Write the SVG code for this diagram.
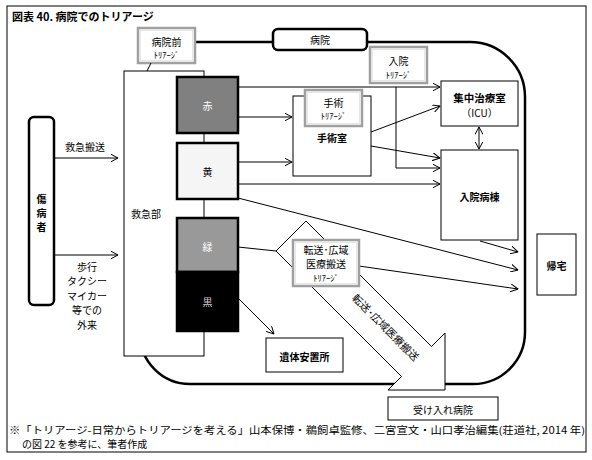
<svg xmlns="http://www.w3.org/2000/svg" width="592" height="460" viewBox="0 0 592 460">
<style>
text{font-family:"Noto Sans CJK JP","Liberation Sans",sans-serif;font-size:10px;fill:#000;dominant-baseline:central;text-anchor:middle}
.b{font-weight:700}
.sm{font-size:8.5px}
.box{fill:#fff;stroke:#000;stroke-width:1}
.tri{fill:#fff;stroke:#a0a0a0;stroke-width:2.5}
.tri2{fill:none;stroke:#e6e6e6;stroke-width:1}
.thick{fill:none;stroke:#000;stroke-width:2.5}
.cb{stroke:#000;stroke-width:2.5}
.ln{fill:none;stroke:#000;stroke-width:1}
.ar{marker-end:url(#ah)}
</style>
<defs>
<marker id="ah" viewBox="0 0 8 8" markerWidth="8" markerHeight="8" refX="7.5" refY="4" orient="auto-start-reverse" markerUnits="userSpaceOnUse">
<path d="M0,0 L7.5,4 L0,8" fill="none" stroke="#000" stroke-width="1"/>
</marker>
</defs>
<rect x="0" y="0" width="592" height="460" fill="#fff"/>
<rect x="7" y="6" width="579" height="446" fill="none" stroke="#000" stroke-width="1"/>
<text x="12" y="16" class="b" style="text-anchor:start;font-size:11px">図表 40.  病院でのトリアージ</text>

<g id="hospital-boundary">
<path class="thick" d="M195,42 H273 M367,42 H470 A55,55 0 0 1 525,97 V332 A52,52 0 0 1 473,384 H190 A50,50 0 0 1 140,334"/>
</g>

<g id="node-hospital">
<rect x="273" y="29" width="94" height="21" rx="5" class="thick" style="fill:#fff"/>
<text x="320" y="39.5">病院</text>
</g>

<g id="node-patient">
<rect x="29" y="117" width="25" height="188" rx="5" class="thick" style="fill:#fff"/>
<text x="41.5" y="198" class="b">傷</text>
<text x="41.5" y="212" class="b">病</text>
<text x="41.5" y="226" class="b">者</text>
</g>

<g id="node-er">
<rect x="124" y="71" width="80" height="285" class="box"/>
<text x="146" y="213">救急部</text>
</g>

<g id="node-pretriage">
<rect x="138" y="28" width="57" height="35" class="tri"/>
<rect x="140.5" y="30.5" width="52" height="30" class="tri2"/>
<text x="166.5" y="41">病院前</text>
<text x="166.5" y="53.5" class="sm">ﾄﾘｱｰｼﾞ</text>
</g>

<g id="connectors">
<line x1="147" y1="71" x2="151" y2="63" class="ln"/>
<line x1="55" y1="158" x2="118" y2="158" class="ln ar"/>
<line x1="55" y1="255" x2="118" y2="255" class="ln ar"/>
<path d="M238,87 H440" class="ln ar"/>
<path d="M396,87 V168 H440" class="ln ar"/>
<line x1="238" y1="117" x2="292" y2="117" class="ln ar"/>
<line x1="238" y1="162" x2="292" y2="162" class="ln ar"/>
<line x1="238" y1="184" x2="440" y2="184" class="ln ar"/>
<line x1="371" y1="132" x2="440" y2="106" class="ln ar"/>
<line x1="371" y1="146" x2="440" y2="158" class="ln ar"/>
<line x1="479" y1="127" x2="479" y2="149" class="ln" style="marker-start:url(#ah);marker-end:url(#ah)"/>
<line x1="480" y1="241" x2="518" y2="252" class="ln ar"/>
<line x1="238" y1="198" x2="518" y2="270" class="ln ar"/>
<line x1="359" y1="266" x2="518" y2="289" class="ln ar"/>
<line x1="238" y1="247" x2="276" y2="251" class="ln"/>
<line x1="238" y1="298" x2="274" y2="334" class="ln ar"/>
</g>

<g id="transfer-arrow">
<polygon points="276,251 306,221 431.5,346.5 445,333 445,390 388,390 401.5,376.5" fill="#fff" stroke="#000" stroke-width="1"/>
<text x="386" y="327" transform="rotate(45 386 327)" style="font-size:10.5px">転送･広域医療搬送</text>
</g>

<g id="node-red">
<rect x="177" y="77" width="61" height="56" fill="#808080" class="cb"/>
<text x="207.5" y="105" style="fill:#fff">赤</text>
</g>
<g id="node-yellow">
<rect x="177" y="143" width="61" height="56" fill="#f5f5f5" class="cb"/>
<text x="207.5" y="171">黄</text>
</g>
<g id="node-green">
<rect x="177" y="218" width="61" height="54" fill="#999" class="cb"/>
<text x="207.5" y="246" style="fill:#fff">緑</text>
</g>
<g id="node-black">
<rect x="177" y="272" width="61" height="59" fill="#000" class="cb"/>
<text x="207.5" y="301" style="fill:#ccc">黒</text>
</g>

<g id="node-surgery">
<rect x="293" y="96" width="78" height="80" class="box"/>
<text x="332" y="137" class="b">手術室</text>
</g>
<g id="node-surgery-triage">
<rect x="305" y="90" width="57" height="36" class="tri"/>
<rect x="307.5" y="92.5" width="52" height="31" class="tri2"/>
<text x="333.5" y="102">手術</text>
<text x="333.5" y="115" class="sm">ﾄﾘｱｰｼﾞ</text>
</g>

<g id="node-admission-triage">
<rect x="370" y="47" width="57" height="36" class="tri"/>
<rect x="372.5" y="49.5" width="52" height="31" class="tri2"/>
<text x="398.5" y="60">入院</text>
<text x="398.5" y="73.5" class="sm">ﾄﾘｱｰｼﾞ</text>
</g>

<g id="node-icu">
<rect x="441" y="81" width="77" height="45" class="box"/>
<text x="479.5" y="97.5" class="b" style="font-size:10.5px">集中治療室</text>
<text x="479.5" y="112">（ICU）</text>
</g>

<g id="node-ward">
<rect x="441" y="150" width="77" height="90" class="box"/>
<text x="479.5" y="196" class="b">入院病棟</text>
</g>

<g id="node-home">
<rect x="537" y="234" width="39" height="61" class="box"/>
<text x="556.5" y="265" class="b">帰宅</text>
</g>

<g id="node-transfer-triage">
<rect x="293" y="240" width="66" height="46" class="tri"/>
<rect x="295.5" y="242.5" width="61" height="41" class="tri2"/>
<text x="326" y="249">転送･広域</text>
<text x="326" y="263">医療搬送</text>
<text x="326" y="277" class="sm">ﾄﾘｱｰｼﾞ</text>
</g>

<g id="node-morgue">
<rect x="266" y="338" width="77" height="34" class="box"/>
<text x="304.5" y="356" class="b">遺体安置所</text>
</g>

<g id="node-receiving">
<rect x="388" y="397" width="110" height="23" class="box"/>
<text x="443" y="409">受け入れ病院</text>
</g>

<g id="labels">
<text x="85" y="146">救急搬送</text>
<text x="87" y="266">歩行</text>
<text x="87" y="280.5">タクシー</text>
<text x="87" y="295">マイカー</text>
<text x="87" y="309.5">等での</text>
<text x="87" y="324">外来</text>
<text x="9" y="429" style="text-anchor:start" textLength="576" lengthAdjust="spacingAndGlyphs">※「トリアージ-日常からトリアージを考える」山本保博・鵜飼卓監修、二宮宣文・山口孝治編集(荘道社, 2014 年)</text>
<text x="22" y="443" style="text-anchor:start">の図 22 を参考に、筆者作成</text>
</g>
</svg>
